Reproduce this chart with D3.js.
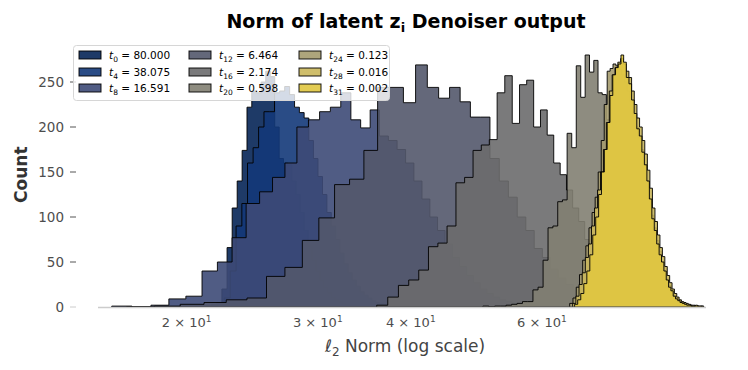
<!DOCTYPE html>
<html>
<head>
<meta charset="utf-8">
<script src="https://cdn.jsdelivr.net/npm/d3@7/dist/d3.min.js"></script>
<style>
  body { margin: 0; background: #fff; }
  svg { display: block; font-family: "DejaVu Sans", sans-serif; }
</style>
</head>
<body>
<div id="chart"></div>
<script>
// timesteps shown in the legend
var stepIdx = ["0", "4", "8", "12", "16", "20", "24", "28", "31"];
var stepVal = ["80.000", "38.075", "16.591", "6.464", "2.174", "0.598", "0.123", "0.016", "0.002"];
var colors = ["#062556", "#133879", "#3d4a77", "#53586b", "#6c6c6d", "#827f72", "#a59b6e", "#cab75c", "#e0c640"];

// histogram range of each series (50 equal bins each)
var binLo = [20.5, 21.2, 15.86, 16.6, 36.0, 50.0, 65.4, 66.0, 66.4];
var binHi = [38.5, 42.2, 66.96, 91.6, 98.5, 96.5, 98.9, 99.0, 98.4];

// bin counts
var countsT0 = [0, 1, 1, 3, 5, 20, 66, 110, 140, 174, 222, 240, 238, 250, 262, 256, 200, 165, 160, 158,
  140, 125, 105, 85, 68, 52, 40, 30, 22, 16, 11, 8, 6, 4, 3, 2, 2, 1, 1, 0, 1, 0, 0, 0, 0, 0, 0, 0, 0, 0];
var countsT4 = [1, 2, 4, 10, 40, 90, 115, 160, 177, 200, 217, 217, 238, 240, 245, 236, 222, 216, 210, 185,
  165, 145, 125, 105, 90, 75, 60, 48, 38, 30, 23, 17, 13, 10, 7, 5, 4, 3, 2, 2, 1, 1, 0, 1, 0, 0, 0, 0, 0, 0];
var countsT8 = [1, 0, 2, 9, 12, 40, 50, 77, 115, 128, 144, 160, 200, 208, 217, 222, 238, 208, 199, 219,
  190, 185, 175, 160, 140, 120, 100, 85, 70, 55, 45, 35, 27, 20, 15, 11, 8, 6, 4, 3, 2, 2, 1, 1, 1, 0, 0, 0, 1, 0];
var countsT12 = [0, 1, 3, 5, 8, 10, 34, 44, 74, 99, 136, 142, 174, 244, 244, 227, 269, 244, 232, 244,
  228, 211, 211, 165, 140, 122, 100, 85, 65, 55, 42, 32, 25, 18, 13, 9, 7, 5, 4, 3, 2, 1, 1, 1, 0, 0, 1, 0, 0, 0];
var countsT16 = [2, 11, 24, 30, 41, 67, 71, 90, 138, 144, 174, 180, 186, 238, 257, 204, 247, 252, 200, 219,
  191, 160, 147, 130, 110, 95, 75, 60, 48, 36, 28, 20, 15, 10, 8, 5, 4, 3, 2, 2, 1, 1, 0, 1, 0, 0, 0, 0, 0, 0];
var countsT20 = [1, 0, 1, 1, 2, 3, 4, 6, 6, 19, 22, 52, 88, 90, 117, 119, 193, 177, 268, 233,
  280, 261, 274, 238, 236, 208, 190, 160, 140, 118, 95, 75, 60, 45, 35, 25, 18, 13, 9, 6, 5, 3, 2, 2, 1, 1, 1, 0, 1, 0];
var countsT24 = [4, 10, 22, 36, 52, 68, 88, 105, 122, 150, 185, 225, 262, 265, 270, 268, 264, 258, 250, 240,
  228, 214, 200, 188, 175, 158, 140, 120, 102, 88, 74, 62, 50, 40, 31, 24, 18, 13, 10, 7, 5, 4, 3, 2, 2, 1, 1, 1, 0, 1];
var countsT28 = [4, 12, 25, 38, 55, 70, 90, 110, 130, 150, 175, 205, 240, 258, 266, 272, 276, 270, 262, 255,
  240, 225, 210, 200, 185, 170, 152, 132, 110, 95, 80, 66, 56, 45, 35, 27, 20, 15, 11, 8, 6, 5, 4, 3, 2, 2, 1, 1, 1, 1];
var countsT31 = [3, 8, 15, 26, 40, 58, 80, 100, 125, 150, 175, 205, 235, 258, 266, 270, 280, 272, 255, 248,
  230, 215, 198, 190, 172, 158, 140, 120, 98, 85, 70, 58, 50, 40, 30, 22, 18, 12, 9, 7, 5, 4, 3, 2, 2, 1, 1, 2, 1, 1];
var allCounts = [countsT0, countsT4, countsT8, countsT12, countsT16, countsT20, countsT24, countsT28, countsT31];

var xTicks = [20, 30, 40, 60];
var yTicks = [0, 50, 100, 150, 200, 250];

var W = 748, H = 370;
var plotL = 98, plotR = 706, plotT = 42.4, plotB = 307;

var svg = d3.select("#chart").append("svg").attr("width", W).attr("height", H);

var x = d3.scaleLog().domain([15.2, 99.7]).range([plotL, plotR]);
var y = d3.scaleLinear().domain([0, 294]).range([plotB, plotT]);

// histograms (stepfilled, later steps drawn on top)
var line = d3.line().x(function (d) { return x(d[0]); }).y(function (d) { return y(d[1]); });
var hist = svg.append("g");
for (var s = 0; s < allCounts.length; s++) {
    var c = allCounts[s];
    var step = (binHi[s] - binLo[s]) / c.length;
    var pts = [[binLo[s], 0]];
    for (var i = 0; i < c.length; i++) {
        pts.push([binLo[s] + i * step, c[i]]);
        pts.push([binLo[s] + (i + 1) * step, c[i]]);
    }
    pts.push([binHi[s], 0]);
    hist.append("path")
        .attr("d", line(pts) + "Z")
        .attr("fill", colors[s])
        .attr("fill-opacity", 0.9)
        .attr("stroke", "#000")
        .attr("stroke-opacity", 0.9)
        .attr("stroke-width", 1)
        .attr("stroke-linejoin", "miter");
}

// bottom spine
svg.append("line")
    .attr("x1", plotL).attr("x2", plotR)
    .attr("y1", plotB + 0.5).attr("y2", plotB + 0.5)
    .attr("stroke", "#cccccc").attr("stroke-width", 1.4);

// x tick labels (2 x 10^1 ...)
var xt = svg.append("g").attr("fill", "#4d4d4d").attr("font-size", 13);
xTicks.forEach(function (t) {
    var txt = xt.append("text").attr("x", x(t)).attr("y", 327).attr("text-anchor", "middle");
    txt.append("tspan").text((t / 10) + " \u00d7 10");
    txt.append("tspan").attr("dy", -5).attr("font-size", 9).text("1");
});

// y ticks
var yt = svg.append("g");
yTicks.forEach(function (t) {
    yt.append("line").attr("x1", 70).attr("x2", 76)
        .attr("y1", y(t)).attr("y2", y(t))
        .attr("stroke", t === 0 ? "#cccccc" : "#555").attr("stroke-width", 1);
    yt.append("text").attr("x", 64).attr("y", y(t) + 5)
        .attr("text-anchor", "end").attr("font-size", 13.5).attr("fill", "#4d4d4d")
        .text(t);
});

// axis labels
var xl = svg.append("text").attr("x", 405).attr("y", 352).attr("text-anchor", "middle")
    .attr("font-size", 17).attr("fill", "#444");
xl.append("tspan").attr("font-style", "italic").text("\u2113");
xl.append("tspan").attr("font-size", 12).attr("dy", 4).text("2");
xl.append("tspan").attr("dy", -4).text(" Norm (log scale)");

svg.append("text")
    .attr("transform", "translate(27," + ((plotT + plotB) / 2) + ") rotate(-90)")
    .attr("text-anchor", "middle").attr("font-size", 17).attr("font-weight", "bold")
    .attr("fill", "#333").text("Count");

// title
var title = svg.append("text").attr("x", 406).attr("y", 28).attr("text-anchor", "middle")
    .attr("font-size", 19).attr("font-weight", "bold").attr("fill", "#000");
title.append("tspan").text("Norm of latent z");
title.append("tspan").attr("font-size", 13).attr("dy", 4).text("i");
title.append("tspan").attr("dy", -4).text(" Denoiser output");

// legend
var lg = svg.append("g");
lg.append("rect").attr("x", 73.5).attr("y", 45.5).attr("width", 316).attr("height", 55)
    .attr("rx", 3).attr("fill", "#fff").attr("fill-opacity", 0.8)
    .attr("stroke", "#d6d6d6").attr("stroke-width", 1);
var colX = [79, 189, 299];
var rowY = [55, 72, 88];
for (var k = 0; k < stepIdx.length; k++) {
    var cx = colX[Math.floor(k / 3)], cy = rowY[k % 3];
    lg.append("rect").attr("x", cx).attr("y", cy - 4).attr("width", 22).attr("height", 8)
        .attr("fill", colors[k]).attr("fill-opacity", 0.9)
        .attr("stroke", "#000").attr("stroke-opacity", 0.9).attr("stroke-width", 1);
    var lt = lg.append("text").attr("x", cx + 30).attr("y", cy + 4)
        .attr("font-size", 10.5).attr("fill", "#000");
    lt.append("tspan").attr("font-style", "italic").text("t");
    lt.append("tspan").attr("font-size", 7.5).attr("dy", 2.5).text(stepIdx[k]);
    lt.append("tspan").attr("dy", -2.5).text(" = " + stepVal[k]);
}
</script>
</body>
</html>
